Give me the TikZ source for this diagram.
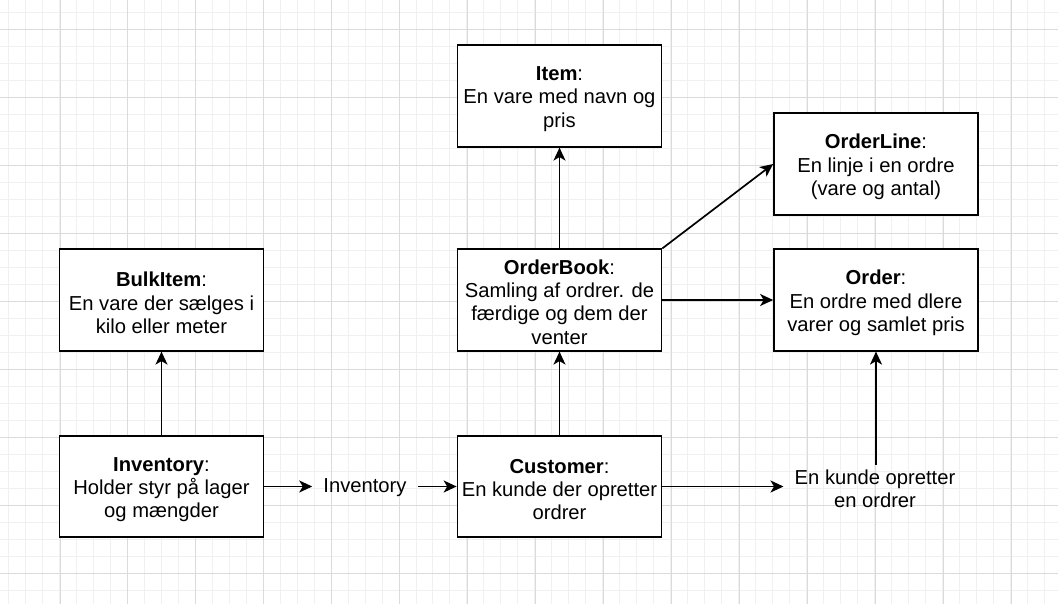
\documentclass[tikz,border=0pt]{standalone}
\usepackage{fontspec}
\setmainfont{Liberation Sans}
\usetikzlibrary{arrows.meta}
\begin{document}
\begin{tikzpicture}[x=1pt,y=-1pt,
  minorline/.style={draw=black!6,line width=1pt},
  majorline/.style={draw=black!14,line width=1pt},
  cls/.style={draw=black,line width=1.7pt,fill=white,minimum width=204pt,minimum height=101.5pt,inner sep=0pt},
  txt/.style={inner sep=0pt,align=center,font=\fontsize{20.2}{23.3}\selectfont},
  lbl/.style={inner xsep=11pt,inner ysep=4pt,align=center,font=\fontsize{20.2}{23.3}\selectfont},
  conn/.style={line width=1.7pt,-{Stealth[length=13pt,width=12pt,inset=3.5pt]}}]
\useasboundingbox (0,0) rectangle (1058,604);
\fill[white] (0,0) rectangle (1058,604);
% grid
\foreach \i in {0,...,62} { \draw[minorline] ({8.3+16.9875*\i},0) -- ++(0,604); }
\foreach \i in {0,...,35} { \draw[minorline] (0,{13.0+16.98*\i}) -- ++(1058,0); }
\foreach \i in {-1,...,15} { \draw[majorline] ({60+67.95*\i},0) -- ++(0,604); }
\foreach \i in {0,...,8} { \draw[majorline] (0,{30+67.93*\i}) -- ++(1058,0); }
% boxes
\node[cls] (item) at (559.5,96) {};
\node[cls] (orderline) at (876,164) {};
\node[cls] (orderbook) at (559.5,300) {};
\node[cls] (order) at (876,300) {};
\node[cls] (bulkitem) at (161.5,300) {};
\node[cls] (inventory) at (161.5,486.5) {};
\node[cls] (customer) at (559.5,486.5) {};
% box texts
\node[txt] (itemt) at ([yshift=-3pt]item.center) {\textbf{Item}:\\En vare med navn og\\pris};
\node[txt] (orderlinet) at ([yshift=-3pt]orderline.center) {\textbf{OrderLine}:\\En linje i en ordre\\(vare og antal)};
\node[txt] (orderbookt) at ([yshift=-2pt]orderbook.center) {\textbf{OrderBook}:\\Samling af ordrer. de\\færdige og dem der\\venter};
\node[txt] (ordert) at ([yshift=-3pt]order.center) {\textbf{Order}:\\En ordre med dlere\\varer og samlet pris};
\node[txt] (bulkitemt) at ([yshift=-3pt]bulkitem.center) {\textbf{BulkItem}:\\En vare der sælges i\\kilo eller meter};
\node[txt] (inventoryt) at ([yshift=-3pt]inventory.center) {\textbf{Inventory}:\\Holder styr på lager\\og mængder};
\node[txt] (customert) at ([yshift=-3pt]customer.center) {\textbf{Customer}:\\En kunde der opretter\\ordrer};
% free labels
\node[lbl] (invlbl) at (365,488) {Inventory};
\node[lbl] (kundelbl) at (875,488.5) {En kunde opretter\\en ordrer};
% connectors
\draw[conn] (inventory.east) -- (inventory.east -| invlbl.west);
\draw[conn] (invlbl.east |- customer.west) -- (customer.west);
\draw[conn] (inventory.north) -- (bulkitem.south);
\draw[conn] (customer.north) -- (orderbook.south);
\draw[conn] (orderbook.north) -- (item.south);
\draw[conn] (orderbook.north east) -- (orderline.west);
\draw[conn] (orderbook.east) -- (order.west);
\draw[conn] (customer.east) -- (customer.east -| kundelbl.west);
\draw[conn] (kundelbl.north -| order.south) -- (order.south);
\end{tikzpicture}
\end{document}
